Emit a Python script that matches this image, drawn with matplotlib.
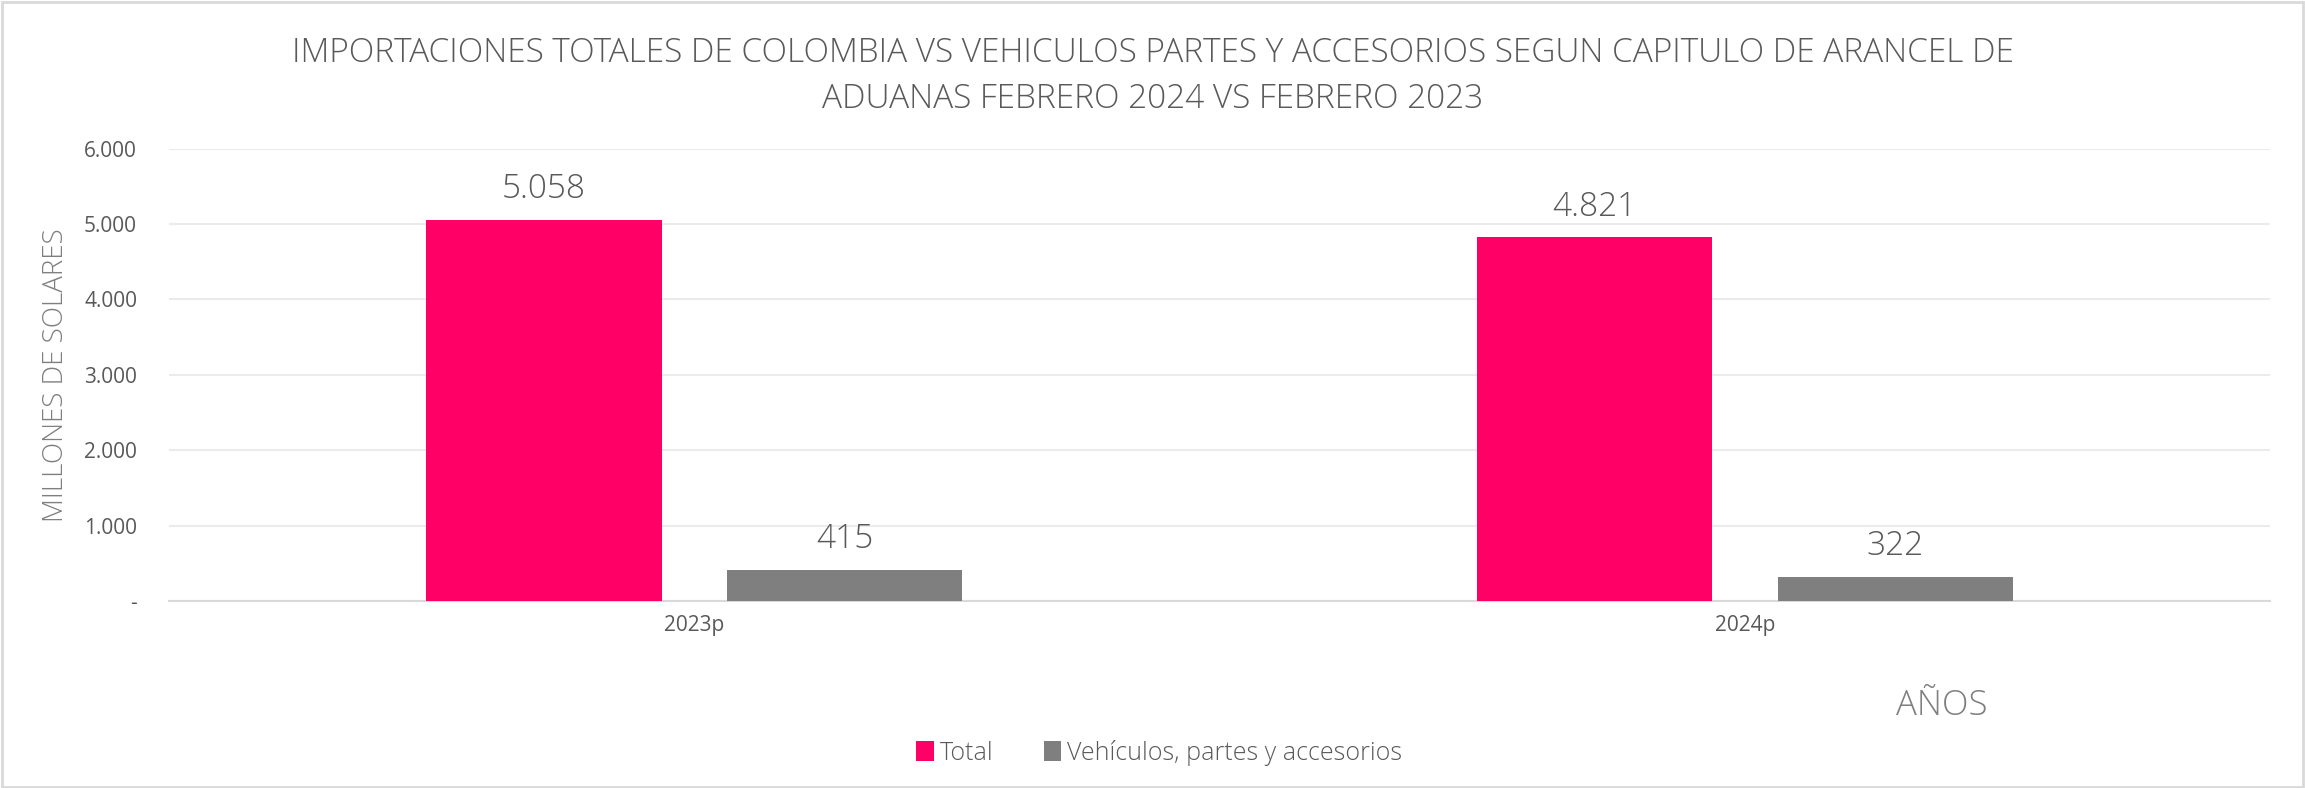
import matplotlib
matplotlib.use("Agg")
import matplotlib.pyplot as plt
import numpy as np
from matplotlib.patches import Rectangle
from matplotlib.ticker import FuncFormatter

categories = ["2023p", "2024p"]
series_names = ["Total", "Vehículos, partes y accesorios"]
total_vals = [5058, 4821]
vehic_vals = [415, 322]
colors = ["#FF0066", "#7F7F7F"]
title = ("IMPORTACIONES TOTALES DE COLOMBIA VS VEHICULOS PARTES Y ACCESORIOS SEGUN CAPITULO DE ARANCEL DE\n"
         "ADUANAS FEBRERO 2024 VS FEBRERO 2023")

FONT = ["Open Sans", "DejaVu Sans"]
plt.rcParams['font.family'] = FONT

def fmt(v):
    return f"{int(round(v)):,}".replace(",", ".")

fig = plt.figure(figsize=(23.05, 7.88), dpi=100)
ax = fig.add_axes([0.0733, 0.237, 0.9117, 0.5745])

x = np.arange(len(categories))
w = 0.224
off = 0.143
b1 = ax.bar(x - off, total_vals, w, color=colors[0], label=series_names[0], zorder=3)
b2 = ax.bar(x + off, vehic_vals, w, color=colors[1], label=series_names[1], zorder=3)

for bars, vals in ((b1, total_vals), (b2, vehic_vals)):
    for r, v in zip(bars, vals):
        ax.annotate(fmt(v), (r.get_x() + r.get_width() / 2, v), xytext=(0, 10),
                    textcoords="offset points", ha="center", va="bottom",
                    fontsize=24, color="#595959", fontweight="light")

ax.set_xlim(-0.5, 1.5)
ax.set_ylim(0, 6000)
ax.set_yticks(np.arange(0, 6001, 1000))
ax.yaxis.set_major_formatter(FuncFormatter(lambda v, p: "-" if v == 0 else fmt(v)))
ax.set_xticks(x)
ax.set_xticklabels(categories)
ax.tick_params(axis="both", length=0, labelsize=15, labelcolor="#595959")
ax.tick_params(axis="y", pad=23)
ax.tick_params(axis="x", pad=10)
ax.grid(axis="y", color="#EBEBEB", linewidth=1.5, zorder=0)
for s in ("top", "right", "left"):
    ax.spines[s].set_visible(False)
ax.spines["bottom"].set_color("#D9D9D9")
ax.spines["bottom"].set_linewidth(1.5)

ax.set_ylabel("MILLONES DE SOLARES", fontsize=20, color="#7F7F7F", labelpad=10,
              fontweight="light")

fig.text(0.5, 0.903, title, ha="center", va="center", fontsize=24, color="#595959",
         linespacing=1.5, fontweight="light")
fig.text(0.8227, 0.105, "AÑOS", ha="left", va="center", fontsize=25, color="#7F7F7F",
         fontweight="light")

leg = fig.legend(handles=[b1, b2], labels=series_names, loc="center",
                 bbox_to_anchor=(0.503, 0.045), ncol=2, frameon=False,
                 handlelength=0.7, handleheight=0.9, handletextpad=0.25, columnspacing=2.0,
                 labelcolor="#595959", prop={"weight": "light", "size": 18})

fig.add_artist(Rectangle((0.001, 0.001), 0.998, 0.997, transform=fig.transFigure,
                         fill=False, edgecolor="#D9D9D9", linewidth=2))

fig.savefig("out.png", dpi=100, facecolor="white")
